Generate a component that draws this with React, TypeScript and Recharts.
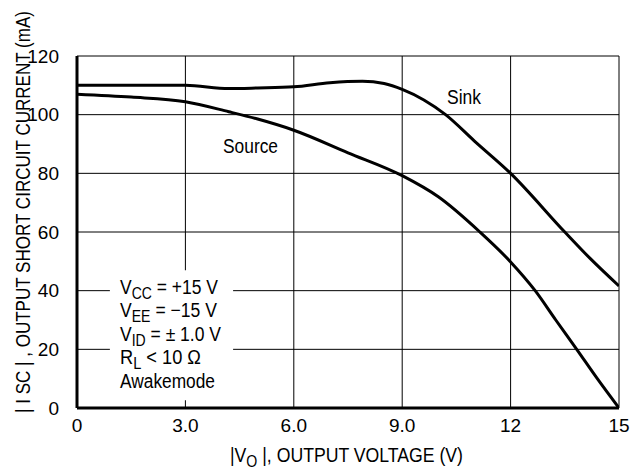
import { LineChart, Line, XAxis, YAxis, CartesianGrid, ReferenceArea, Customized } from 'recharts'

const FONT = '"Liberation Sans", Arial, Helvetica, sans-serif'

const xTicks = [0, 3, 6, 9, 12, 15]
const xTickLabels = ['0', '3.0', '6.0', '9.0', '12', '15']
const yTicks = [0, 20, 40, 60, 80, 100, 120]

// Source curve: |Vo| (V) vs |Isc| (mA)
const sourceVolts = [0, 1.5, 3, 4.2, 5, 6, 7.5, 9, 10, 11.15, 12, 12.68, 13.25, 13.83, 14.4, 15]
const sourceAmps = [107, 106, 104.4, 101, 98.5, 94.7, 87, 79.2, 72, 60, 49.8, 40, 30, 20, 10, 0]

// Sink curve
const sinkVolts = [0, 1.5, 3, 4.2, 5, 6, 7, 7.9, 8.5, 9, 9.6, 10.2, 11, 12, 13.5, 14.2, 15]
const sinkAmps = [110, 110, 110, 108.9, 109.1, 109.5, 110.9, 111.4, 110.6, 108.6, 105, 100, 91, 80, 60, 51, 41.6]

const sourceData = sourceVolts.map((v, i) => ({ v, i: sourceAmps[i] }))
const sinkData = sinkVolts.map((v, i) => ({ v, i: sinkAmps[i] }))

const Sub = ({ children }: { children: string }) => (
  <>
    <tspan dy={5} fontSize={16}>{children}</tspan>
    <tspan dy={-5}> </tspan>
  </>
)

const t = { fontFamily: FONT, fontSize: 20, fill: '#000', lengthAdjust: 'spacingAndGlyphs' as const }

// conditions block, drawn as the label of the white area so it sits above it
function Conditions() {
  return (
    <g>
      <text x={120} y={294} textLength={98} {...t}>V<Sub>CC</Sub>= +15 V</text>
      <text x={120} y={317} textLength={97} {...t}>V<Sub>EE</Sub>= −15 V</text>
      <text x={120} y={341} textLength={101} {...t}>V<Sub>ID</Sub>= ± 1.0 V</text>
      <text x={120} y={364} textLength={81} {...t}>R<Sub>L</Sub>&lt; 10 Ω</text>
      <text x={120} y={388} textLength={95} {...t}>Awakemode</text>
    </g>
  )
}

function Annotations() {
  return (
    <g>
      <text x={447} y={104} textLength={34} {...t}>Sink</text>
      <text x={223} y={153} textLength={55} {...t}>Source</text>
      <text x={230} y={462} textLength={233} {...t}>
        |V<Sub>O</Sub>|, OUTPUT VOLTAGE (V)
      </text>
      <text
        x={0}
        y={0}
        textAnchor="middle"
        textLength={402}
        transform="translate(30 212) rotate(-90)"
        {...t}
      >
        | I SC | , OUTPUT SHORT CIRCUIT CURRENT (mA)
      </text>
    </g>
  )
}

export default function App() {
  return (
    <div style={{ position: 'absolute', left: 0, top: 0, background: '#fff' }}>
      <LineChart
        width={633}
        height={472}
        margin={{ top: 56, right: 14, bottom: 34, left: 0 }}
      >
        <CartesianGrid stroke="#000" strokeWidth={1} />
        <XAxis
          type="number"
          dataKey="v"
          domain={[0, 15]}
          ticks={xTicks}
          tickFormatter={(v: number) => xTickLabels[xTicks.indexOf(v)]}
          height={30}
          axisLine={{ stroke: '#000', strokeWidth: 3 }}
          tickLine={false}
          tick={{ fill: '#000', fontSize: 19, fontFamily: FONT }}
          tickMargin={5}
          allowDataOverflow
        />
        <YAxis
          type="number"
          dataKey="i"
          domain={[0, 120]}
          ticks={yTicks}
          width={77}
          axisLine={{ stroke: '#000', strokeWidth: 3 }}
          tickLine={false}
          tick={{ fill: '#000', fontSize: 19, fontFamily: FONT }}
          tickMargin={12}
          allowDataOverflow
        />
        <ReferenceArea
          x1={0.91}
          x2={4.32}
          y1={2.6}
          y2={47}
          fill="#fff"
          fillOpacity={1}
          stroke="none"
          label={<Conditions />}
        />
        <Line
          data={sourceData}
          dataKey="i"
          type="monotone"
          stroke="#000"
          strokeWidth={3}
          dot={false}
          isAnimationActive={false}
        />
        <Line
          data={sinkData}
          dataKey="i"
          type="monotone"
          stroke="#000"
          strokeWidth={3}
          dot={false}
          isAnimationActive={false}
        />
        <Customized component={Annotations} />
      </LineChart>
    </div>
  )
}
